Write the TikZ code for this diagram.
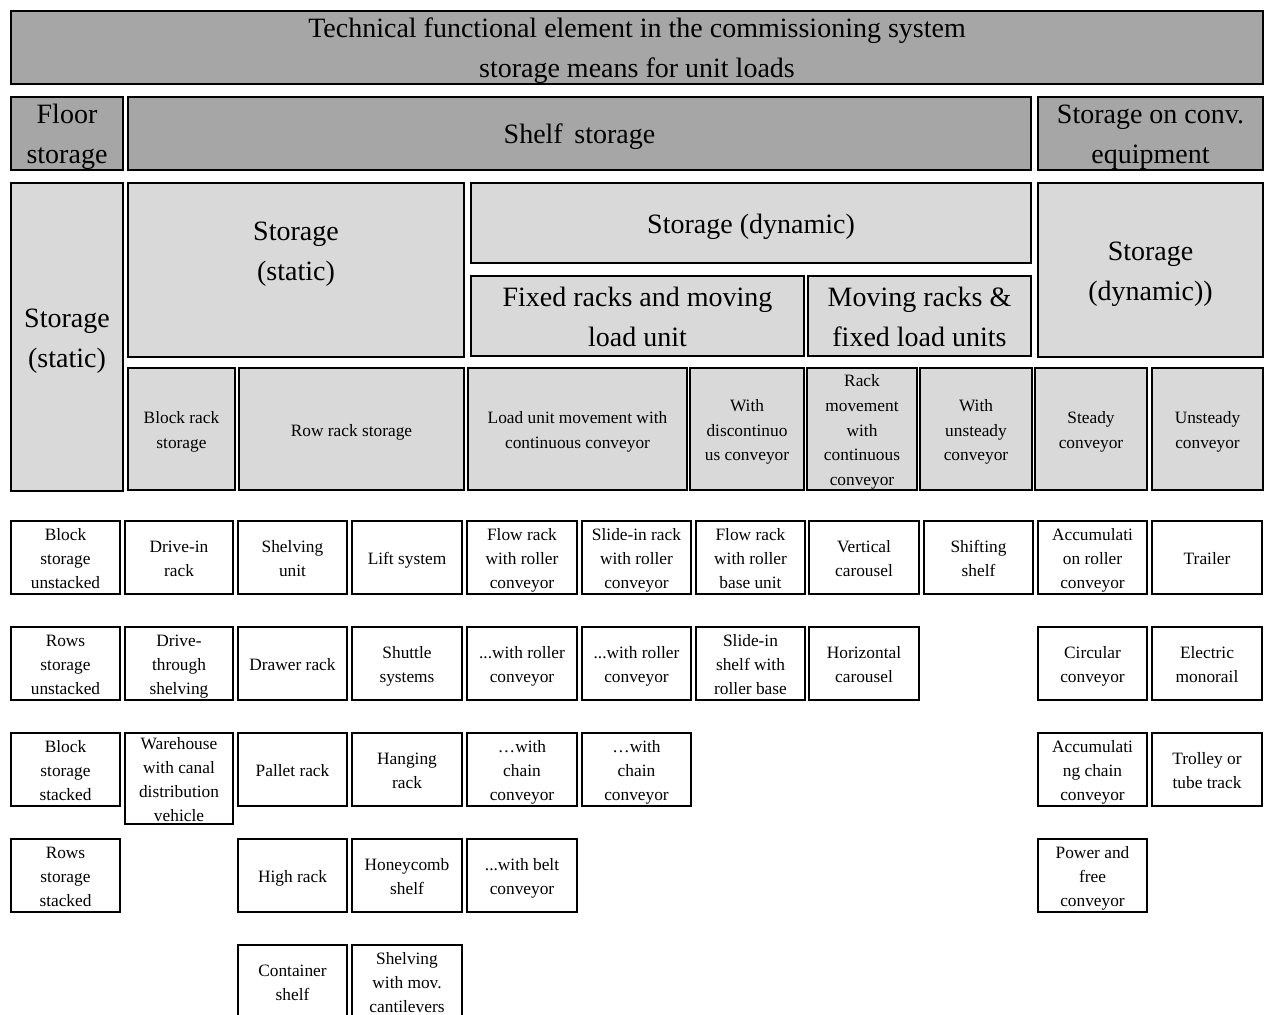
\documentclass[tikz,border=0pt]{standalone}
\usepackage{fontspec}
\setmainfont{Liberation Serif}
\definecolor{headdark}{RGB}{166,166,166}
\definecolor{headlight}{RGB}{217,217,217}
\tikzset{
  cellbase/.style={draw=black, line width=1.2pt, rectangle, inner sep=0pt},
  darkcell/.style={cellbase, fill=headdark},
  lightcell/.style={cellbase, fill=headlight},
  itemcell/.style={cellbase, fill=white},
  textbase/.style={inner sep=0pt, align=center, text=black},
  bigtext/.style={textbase, font=\fontsize{21}{30}\selectfont, yshift=-1.8pt},
  smalltext/.style={textbase, font=\fontsize{13}{18.5}\selectfont, yshift=-1.6pt},
  itemtext/.style={textbase, font=\fontsize{13}{18}\selectfont, yshift=-1.6pt},
}
% \cellbox{box style}{text style}{name}{x1}{y1}{x2}{y2}{text}: a box given by its corners (in px);
% struts on the first and last line keep the text block symmetric
\newcommand{\cellbox}[8]{%
  \node[#1, minimum width={(#6-#4)*0.75pt}, minimum height={(#7-#5)*0.75pt}]
    (#3) at ({(#4+#6)/2},{(#5+#7)/2}) {};
  \node[#2] (#3-t) at (#3.center) {\strut#8\strut};}
\begin{document}
\begin{tikzpicture}[x=0.75pt, y=-0.75pt]
\useasboundingbox (0,0) rectangle (1266,1014);
\clip (0,0) rectangle (1266,1014);

% header rows
\cellbox{darkcell}{bigtext}{title}{11}{11}{1263}{84}{Technical functional element in the commissioning system\\storage means for unit loads}
\cellbox{darkcell}{bigtext}{floor}{11}{97}{123}{170}{Floor\\storage}
\cellbox{darkcell}{bigtext}{shelf}{128}{97}{1031}{170}{Shelf\, storage}
\cellbox{darkcell}{bigtext}{conv}{1038}{97}{1263}{170}{Storage on conv.\\equipment}

\cellbox{lightcell}{bigtext}{lstat}{11}{183}{123}{491}{Storage\\(static)}
\cellbox{lightcell}{bigtext}{mstat}{128}{183}{464}{357}{Storage\\(static)\\\mbox{}}
\cellbox{lightcell}{bigtext}{dyn}{471}{183}{1031}{263}{Storage (dynamic)}
\cellbox{lightcell}{bigtext}{fixed}{471}{276}{804}{356}{Fixed racks and moving\\load unit}
\cellbox{lightcell}{bigtext}{moving}{808}{276}{1031}{356}{Moving racks \&\\fixed load units}
\cellbox{lightcell}{bigtext}{rdyn}{1038}{183}{1263}{357}{Storage\\(dynamic))}

\cellbox{lightcell}{smalltext}{block}{128}{368}{235}{490}{Block rack\\storage}
\cellbox{lightcell}{smalltext}{rowrack}{239}{368}{464}{490}{Row rack storage}
\cellbox{lightcell}{smalltext}{loadmov}{468}{368}{687}{490}{Load unit movement with\\continuous conveyor}
\cellbox{lightcell}{smalltext}{discont}{690}{368}{804}{490}{With\\discontinuo\\us conveyor}
\cellbox{lightcell}{smalltext}{rackmov}{807}{368}{917}{490}{Rack\\movement\\with\\continuous\\conveyor}
\cellbox{lightcell}{smalltext}{unsteadyw}{920}{368}{1032}{490}{With\\unsteady\\conveyor}
\cellbox{lightcell}{smalltext}{steady}{1035}{368}{1147}{490}{Steady\\conveyor}
\cellbox{lightcell}{smalltext}{unsteady}{1152}{368}{1263}{490}{Unsteady\\conveyor}

% item rows
\cellbox{itemcell}{itemtext}{a1}{11}{521}{120}{594}{Block\\storage\\unstacked}
\cellbox{itemcell}{itemtext}{a2}{125}{521}{233}{594}{Drive-in\\rack}
\cellbox{itemcell}{itemtext}{a3}{238}{521}{347}{594}{Shelving\\unit}
\cellbox{itemcell}{itemtext}{a4}{352}{521}{462}{594}{Lift system}
\cellbox{itemcell}{itemtext}{a5}{467}{521}{577}{594}{Flow rack\\with roller\\conveyor}
\cellbox{itemcell}{itemtext}{a6}{582}{521}{691}{594}{Slide-in rack\\with roller\\conveyor}
\cellbox{itemcell}{itemtext}{a7}{696}{521}{805}{594}{Flow rack\\with roller\\base unit}
\cellbox{itemcell}{itemtext}{a8}{809}{521}{919}{594}{Vertical\\carousel}
\cellbox{itemcell}{itemtext}{a9}{924}{521}{1033}{594}{Shifting\\shelf}
\cellbox{itemcell}{itemtext}{a10}{1038}{521}{1147}{594}{Accumulati\\on roller\\conveyor}
\cellbox{itemcell}{itemtext}{a11}{1152}{521}{1262}{594}{Trailer}

\cellbox{itemcell}{itemtext}{b1}{11}{627}{120}{700}{Rows\\storage\\unstacked}
\cellbox{itemcell}{itemtext}{b2}{125}{627}{233}{700}{Drive-\\through\\shelving}
\cellbox{itemcell}{itemtext}{b3}{238}{627}{347}{700}{Drawer rack}
\cellbox{itemcell}{itemtext}{b4}{352}{627}{462}{700}{Shuttle\\systems}
\cellbox{itemcell}{itemtext}{b5}{467}{627}{577}{700}{...with roller\\conveyor}
\cellbox{itemcell}{itemtext}{b6}{582}{627}{691}{700}{...with roller\\conveyor}
\cellbox{itemcell}{itemtext}{b7}{696}{627}{805}{700}{Slide-in\\shelf with\\roller base}
\cellbox{itemcell}{itemtext}{b8}{809}{627}{919}{700}{Horizontal\\carousel}
\cellbox{itemcell}{itemtext}{b10}{1038}{627}{1147}{700}{Circular\\conveyor}
\cellbox{itemcell}{itemtext}{b11}{1152}{627}{1262}{700}{Electric\\monorail}

\cellbox{itemcell}{itemtext}{c1}{11}{733}{120}{806}{Block\\storage\\stacked}
\cellbox{itemcell}{itemtext}{c2}{125}{733}{233}{824}{Warehouse\\with canal\\distribution\\vehicle}
\cellbox{itemcell}{itemtext}{c3}{238}{733}{347}{806}{Pallet rack}
\cellbox{itemcell}{itemtext}{c4}{352}{733}{462}{806}{Hanging\\rack}
\cellbox{itemcell}{itemtext}{c5}{467}{733}{577}{806}{…with\\chain\\conveyor}
\cellbox{itemcell}{itemtext}{c6}{582}{733}{691}{806}{…with\\chain\\conveyor}
\cellbox{itemcell}{itemtext}{c10}{1038}{733}{1147}{806}{Accumulati\\ng chain\\conveyor}
\cellbox{itemcell}{itemtext}{c11}{1152}{733}{1262}{806}{Trolley or\\tube track}

\cellbox{itemcell}{itemtext}{d1}{11}{839}{120}{912}{Rows\\storage\\stacked}
\cellbox{itemcell}{itemtext}{d3}{238}{839}{347}{912}{High rack}
\cellbox{itemcell}{itemtext}{d4}{352}{839}{462}{912}{Honeycomb\\shelf}
\cellbox{itemcell}{itemtext}{d5}{467}{839}{577}{912}{...with belt\\conveyor}
\cellbox{itemcell}{itemtext}{d10}{1038}{839}{1147}{912}{Power and\\free\\conveyor}

\cellbox{itemcell}{itemtext}{e3}{238}{945}{347}{1018}{Container\\shelf}
\cellbox{itemcell}{itemtext}{e4}{352}{945}{462}{1018}{Shelving\\with mov.\\cantilevers}
\end{tikzpicture}
\end{document}
